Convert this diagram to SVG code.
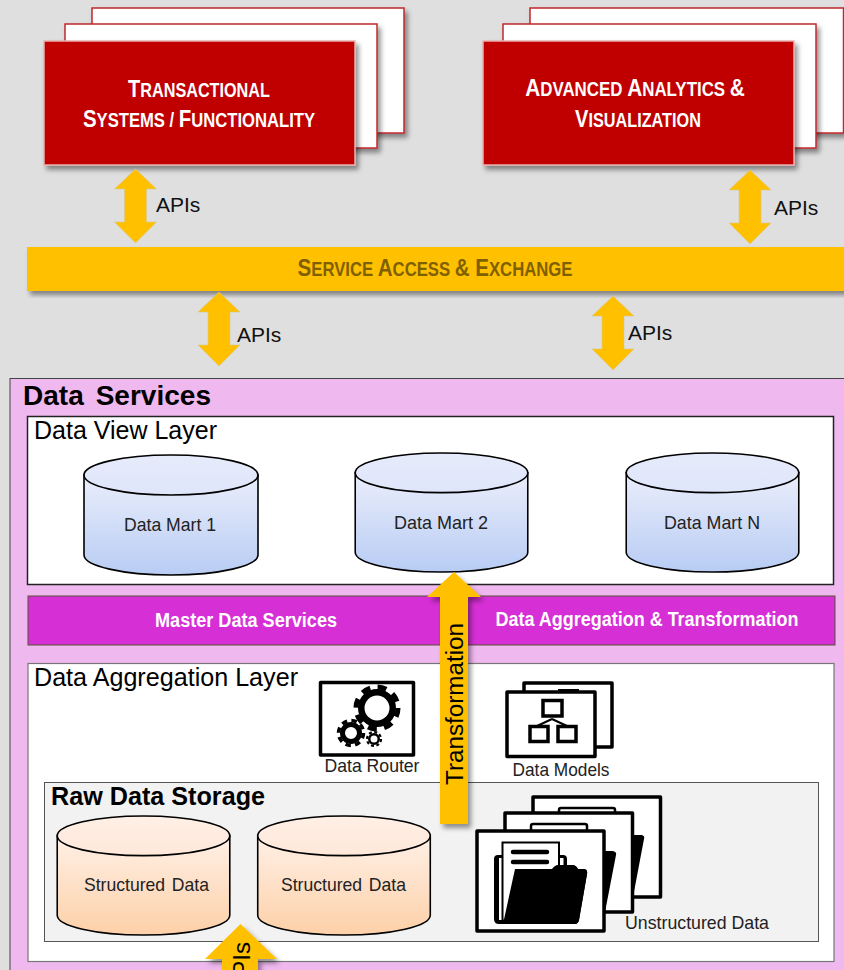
<svg xmlns="http://www.w3.org/2000/svg" width="844" height="970" viewBox="0 0 844 970">
<style>
text{font-family:"Liberation Sans",Arial,sans-serif}
.red{fill:#c00000;stroke:#e8b0b0;stroke-width:1.5}
.card{fill:#fff;stroke:#c0282c;stroke-width:1.5}
.arw{fill:#ffc000;stroke:#d8c890;stroke-width:.6}
.lbl{font-size:21px;fill:#111}
.hd{font-size:25px;fill:#000}
.cap{font-size:19px;fill:#222}
.bk{fill:#fff;stroke:#000;stroke-width:3.5;stroke-linejoin:round}
.sc{font-weight:bold;fill:#fff;text-anchor:middle;font-size:19.500px}
.big{font-size:24px}
</style>
<defs>
<filter id="sh" x="-10%" y="-10%" width="120%" height="125%"><feDropShadow dx="3" dy="4" stdDeviation="2.5" flood-color="#000" flood-opacity=".42"/></filter>
<linearGradient id="blue" x1="0" y1="0" x2="0" y2="1"><stop offset="0" stop-color="#eaeefb"/><stop offset="1" stop-color="#b8ccf4"/></linearGradient>
<linearGradient id="blueTop" x1="0" y1="0" x2="0" y2="1"><stop offset="0" stop-color="#e6ebfb"/><stop offset="1" stop-color="#dfe6fa"/></linearGradient>
<linearGradient id="peach" x1="0" y1="0" x2="0" y2="1"><stop offset="0" stop-color="#fff0e6"/><stop offset="1" stop-color="#fdd0a8"/></linearGradient>
<linearGradient id="peachTop" x1="0" y1="0" x2="0" y2="1"><stop offset="0" stop-color="#ffefe5"/><stop offset="1" stop-color="#fee8da"/></linearGradient>
<symbol id="cylB" viewBox="0 0 174 120" overflow="visible"><path d="M0 20V100C0 111 39 120 87 120S174 111 174 100V20Z" fill="url(#blue)" stroke="#000" stroke-width="1.6"/><ellipse cx="87" cy="20" rx="87" ry="20" fill="url(#blueTop)" stroke="#000" stroke-width="1.6"/></symbol>
<symbol id="cylP" viewBox="0 0 174 120" overflow="visible"><path d="M0 20V100C0 111 39 120 87 120S174 111 174 100V20Z" fill="url(#peach)" stroke="#000" stroke-width="1.6"/><ellipse cx="87" cy="20" rx="87" ry="20" fill="url(#peachTop)" stroke="#000" stroke-width="1.6"/></symbol>
<path id="dbl" d="M0 0L21 20H11V53H21L0 74L-21 53H-11V20H-21Z"/>
</defs>
<rect width="844" height="970" fill="#dfdfdf"/>

<g id="transactional">
<rect class="card" x="92" y="8" width="312" height="125" filter="url(#sh)"/>
<rect class="card" x="65" y="24" width="312" height="124" filter="url(#sh)"/>
<rect class="red" x="44" y="41" width="311" height="124" filter="url(#sh)"/>
<text class="sc" transform="translate(199 97) scale(.832 1)"><tspan class="big">T</tspan>RANSACTIONAL</text>
<text class="sc" transform="translate(199 127) scale(.853 1)"><tspan class="big">S</tspan>YSTEMS / <tspan class="big">F</tspan>UNCTIONALITY</text>
</g>
<g id="analytics">
<rect class="card" x="530" y="8" width="313.500" height="125" filter="url(#sh)"/>
<rect class="card" x="503" y="24" width="313" height="124" filter="url(#sh)"/>
<rect class="red" x="483" y="41" width="311" height="124" filter="url(#sh)"/>
<text class="sc" transform="translate(635 96) scale(.867 1)"><tspan class="big">A</tspan>DVANCED <tspan class="big">A</tspan>NALYTICS <tspan class="big">&amp;</tspan></text>
<text class="sc" transform="translate(638 127) scale(.833 1)"><tspan class="big">V</tspan>ISUALIZATION</text>
</g>
<g id="service-access">
<rect x="27" y="247" width="830" height="44" fill="#ffc000" filter="url(#sh)"/>
<text class="sc" style="fill:#7f6000" transform="translate(435 276) scale(.856 1)"><tspan class="big">S</tspan>ERVICE <tspan class="big">A</tspan>CCESS <tspan class="big">&amp; E</tspan>XCHANGE</text>
</g>

<g id="data-services">
<rect x="10" y="378.500" width="850" height="610" fill="#efb8ef" stroke="#444" stroke-width="1"/>
<text x="23" y="405" font-size="27" font-weight="bold" fill="#000" word-spacing="4" textLength="188" lengthAdjust="spacingAndGlyphs">Data Services</text>
</g>
<g id="data-view-layer">
<rect x="27.500" y="416.500" width="806" height="168" fill="#fff" stroke="#222" stroke-width="1.500"/>
<text class="hd" x="34" y="439" textLength="183" lengthAdjust="spacingAndGlyphs">Data View Layer</text>
</g>
<g id="data-mart-1"><use href="#cylB" x="84" y="455" width="174" height="120"/><text class="cap" x="170" y="531" text-anchor="middle" textLength="92" lengthAdjust="spacingAndGlyphs">Data Mart 1</text></g>
<g id="data-mart-2"><use href="#cylB" x="355" y="453" width="173" height="119"/><text class="cap" x="441" y="529" text-anchor="middle" textLength="94" lengthAdjust="spacingAndGlyphs">Data Mart 2</text></g>
<g id="data-mart-n"><use href="#cylB" x="626" y="453" width="173" height="119"/><text class="cap" x="712" y="529" text-anchor="middle" textLength="96" lengthAdjust="spacingAndGlyphs">Data Mart N</text></g>

<g id="master-bar">
<rect x="28" y="596" width="807" height="49" fill="#d62fd6" stroke="#553" stroke-width="1"/>
<text x="246" y="627" font-size="20" font-weight="bold" fill="#fff" text-anchor="middle" textLength="182" lengthAdjust="spacingAndGlyphs">Master Data Services</text>
<text x="647" y="626" font-size="20" font-weight="bold" fill="#fff" text-anchor="middle" textLength="303" lengthAdjust="spacingAndGlyphs">Data Aggregation &amp; Transformation</text>
</g>

<g id="data-aggregation-layer">
<rect x="28" y="663.500" width="806" height="298" fill="#fff" stroke="#777" stroke-width="1.200"/>
<text class="hd" x="34" y="686" textLength="264" lengthAdjust="spacingAndGlyphs">Data Aggregation Layer</text>
</g>
<g id="raw-data-storage">
<rect x="44.500" y="782.500" width="774" height="159" fill="#f2f2f2" stroke="#555" stroke-width="1"/>
<text x="51" y="805" font-size="25" font-weight="bold" fill="#000" textLength="214" lengthAdjust="spacingAndGlyphs">Raw Data Storage</text>
</g>
<g id="structured-1"><use href="#cylP" x="56" y="816" width="175" height="119"/><text class="cap" x="146.500" y="891" text-anchor="middle" textLength="125" lengthAdjust="spacingAndGlyphs" word-spacing="2">Structured Data</text></g>
<g id="structured-2"><use href="#cylP" x="257" y="816" width="174" height="119"/><text class="cap" x="343.500" y="891" text-anchor="middle" textLength="125" lengthAdjust="spacingAndGlyphs" word-spacing="2">Structured Data</text></g>

<g id="data-router">
<rect class="bk" x="320.500" y="682.500" width="93" height="72.500"/>
<g fill="none" stroke="#000">
<circle cx="377" cy="708" r="15.750" stroke-width="6.500"/><circle cx="377" cy="708" r="21" stroke-width="5" stroke-dasharray="9 7.490"/>
<circle cx="351" cy="733" r="8.500" stroke-width="5"/><circle cx="351" cy="733" r="12.500" stroke-width="3.500" stroke-dasharray="5.500 4.320"/>
<circle cx="374" cy="739" r="4.750" stroke-width="2.500"/><circle cx="374" cy="739" r="7" stroke-width="2.200" stroke-dasharray="3 2.500"/>
</g>
<text class="cap" x="372" y="772" text-anchor="middle" textLength="95" lengthAdjust="spacingAndGlyphs">Data Router</text>
</g>
<g id="data-models">
<rect class="bk" x="524" y="683" width="88" height="64"/>
<rect x="558" y="689" width="21" height="4" fill="#000"/>
<rect class="bk" x="507" y="692" width="88" height="64.500"/>
<g fill="none" stroke="#000" stroke-width="3.500"><rect x="543" y="700.500" width="19" height="15.500"/><rect x="530" y="726.500" width="18" height="15"/><rect x="558" y="726.500" width="18" height="15"/><path d="M552 719L537 726M552 719L567 726" stroke-width="2"/></g>
<text class="cap" x="561" y="776" text-anchor="middle" textLength="97" lengthAdjust="spacingAndGlyphs">Data Models</text>
</g>
<g id="unstructured-data">
<rect class="bk" x="533" y="797" width="127.500" height="100"/>
<rect x="559" y="808" width="56" height="12" rx="2" fill="#fff" stroke="#000" stroke-width="2.500"/>
<path d="M630 835H642Q645 836 644 839L633 897H620Z" fill="#000"/>
<rect class="bk" x="505" y="813" width="127.500" height="99"/>
<rect x="531" y="824" width="56" height="12" rx="2" fill="#fff" stroke="#000" stroke-width="2.500"/>
<path d="M602 851H613Q617 852 616 855L605 912H592Z" fill="#000"/>
<rect class="bk" x="477" y="831" width="127" height="100"/>
<path d="M498 855Q494 855 494 859V919Q494 924 499 924H575Q578 924 579 920L587 874Q588 869 583 869H578Q576 865 572 865H567V859Q567 855 563 855Z" fill="#000"/>
<rect x="499" y="858" width="3" height="62" fill="#fff"/>
<rect x="560" y="858" width="3.500" height="8" fill="#fff"/>
<rect x="502.500" y="842.500" width="56.500" height="78" fill="#fff" stroke="#000" stroke-width="2"/>
<path d="M515 869H552Q555 865 558 865H572Q576 865 578 869H583Q588 869 587 874L579 920Q578 924 575 924H503Z" fill="#000"/>
<path d="M513 852H547M513 862H547" stroke="#000" stroke-width="4.500" stroke-linecap="round" fill="none"/>
<text class="cap" x="697" y="929" text-anchor="middle" textLength="144" lengthAdjust="spacingAndGlyphs">Unstructured Data</text>
</g>

<g id="connectors">
<use href="#dbl" class="arw" x="135.500" y="169"/>
<use href="#dbl" class="arw" x="750" y="170"/>
<use href="#dbl" class="arw" x="219" y="292"/>
<use href="#dbl" class="arw" x="613" y="296"/>
<path d="M454 572L481 597H468V824H440V597H427Z" fill="#ffc000" filter="url(#sh)"/>
<path d="M240.500 924L277 959H258V990H222V959H205Z" fill="#ffc000" filter="url(#sh)"/>
</g>
<g id="connector-labels">
<text class="lbl" x="156" y="212">APIs</text>
<text class="lbl" x="774" y="215">APIs</text>
<text class="lbl" x="237" y="342">APIs</text>
<text class="lbl" x="628" y="340">APIs</text>
<text x="463" y="785" font-size="23" fill="#000" transform="rotate(-90 463 785)" textLength="162" lengthAdjust="spacingAndGlyphs">Transformation</text>
<text x="250" y="942" font-size="24" fill="#000" text-anchor="end" transform="rotate(-90 250 942)">APIs</text>
</g>
</svg>
